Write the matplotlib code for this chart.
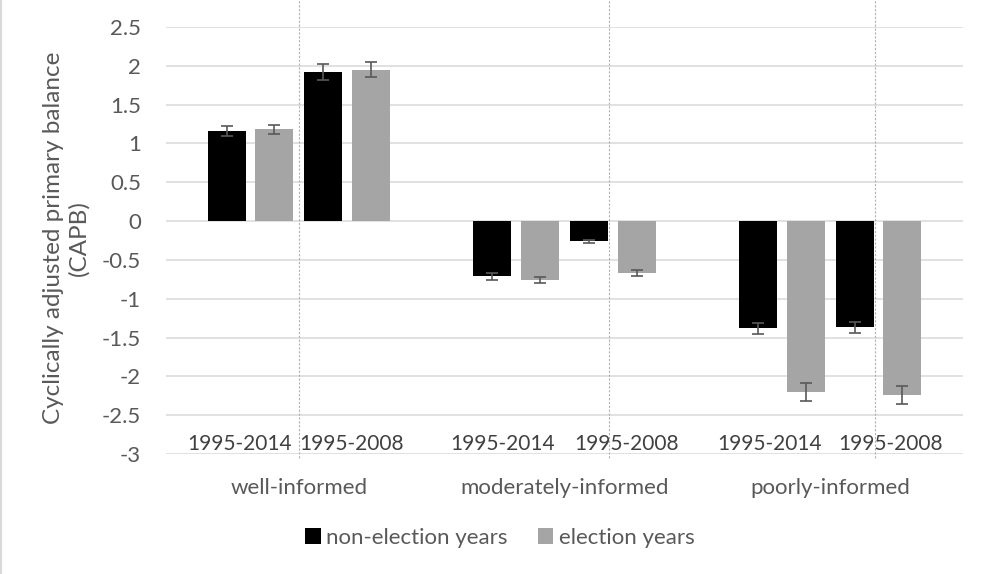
import numpy as np
import matplotlib
matplotlib.use('Agg')
import matplotlib.pyplot as plt
from matplotlib.lines import Line2D

groups = ['well-informed', 'moderately-informed', 'poorly-informed']
periods = ['1995-2014', '1995-2008']

# CAPB means, order per group: 1995-2014, 1995-2008
non_election = [1.16, 1.92, -0.71, -0.26, -1.38, -1.37]
non_election_err = [0.065, 0.10, 0.043, 0.02, 0.073, 0.07]
election = [1.18, 1.95, -0.76, -0.67, -2.20, -2.24]
election_err = [0.063, 0.10, 0.04, 0.036, 0.113, 0.116]

plt.rcParams['font.family'] = ['Lato', 'DejaVu Sans']
text_color = '#595959'
fs = 16

fig = plt.figure(figsize=(9.9, 5.74), dpi=100)
ax = fig.add_axes([166 / 990, 1 - 454 / 574, 797 / 990, 427 / 574])

group_x = np.arange(len(groups))
sub_offset = 0.182
bar_offset = 0.09
width = 0.143
x = np.array([g + s for g in group_x for s in (-sub_offset, sub_offset)])

err_kw = dict(ecolor='#595959', elinewidth=1.2, capsize=4, capthick=1.2)
ax.bar(x - bar_offset, non_election, width, yerr=non_election_err,
       color='black', label='non-election years', error_kw=err_kw, zorder=3)
ax.bar(x + bar_offset, election, width, yerr=election_err,
       color='#a5a5a5', label='election years', error_kw=err_kw, zorder=3)

# dotted separators
for xv in [0.0, 1.167, 2.167]:
    ax.axvline(xv, ymin=-0.01, ymax=1.07, color='#b0b0b0', lw=0.8,
               ls=(0, (2, 1.5)), clip_on=False, zorder=1)

ax.set_xlim(-0.5, 2.5)
ax.set_ylim(-3, 2.5)
yt = np.arange(-3, 2.51, 0.5)
ax.set_yticks(yt)
ax.set_yticklabels(['%g' % v for v in yt], color=text_color, fontsize=fs)
ax.set_xticks([])
ax.tick_params(axis='y', length=0, pad=18)
ax.yaxis.grid(True, color='#d9d9d9', lw=1.1)
ax.set_axisbelow(True)
for s in ax.spines.values():
    s.set_visible(False)

# period labels inside the bottom band, group labels below the axis
label_shift = [-0.04, 0.015, -0.05, 0.05, -0.045, 0.045]
for xv, sh, lab in zip(x, label_shift, periods * len(groups)):
    ax.text(xv + sh, -2.95, lab, ha='center', va='baseline',
            color='#404040', fontsize=15)
for g, lab in zip(group_x, groups):
    ax.text(g, -0.094, lab, ha='center', va='baseline', color=text_color,
            fontsize=fs, transform=ax.get_xaxis_transform())

fig.text(66 / 990, 1 - 238 / 574,
         'Cyclically adjusted primary balance\n(CAPB)', rotation=90,
         ha='center', va='center', multialignment='center',
         color=text_color, fontsize=17.5, linespacing=1.2)

fig.legend(loc='center', bbox_to_anchor=(500 / 990, 1 - 538 / 574),
           ncol=2, frameon=False, fontsize=fs, labelcolor=text_color,
           handlelength=0.7, handleheight=0.7, handletextpad=0.25,
           columnspacing=1.35)

fig.add_artist(Line2D([0.0015, 0.0015], [0, 1], color='#d9d9d9', lw=1.5))

fig.savefig('out.png', dpi=100)
